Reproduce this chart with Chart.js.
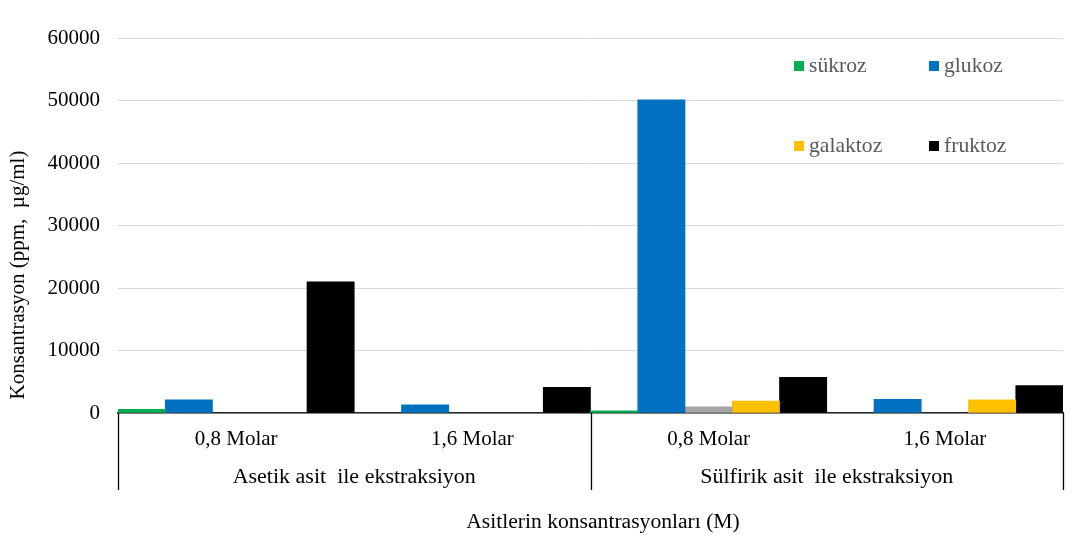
<!DOCTYPE html>
<html lang="tr">
<head>
  <meta charset="UTF-8">
  <title>Konsantrasyon</title>
  <style>
    body { margin: 0; background: #fff; }
    .chart-container { width: 1075px; height: 554px; }
  </style>
</head>
<body>
  <div class="chart-container">
    <canvas id="barChart" width="1075" height="554"></canvas>
  </div>

  <script src="https://cdn.jsdelivr.net/npm/chart.js"></script>
  <script>
    // data (null = no bar)
    const categories = ['0,8 Molar', '1,6 Molar', '0,8 Molar', '1,6 Molar'];
    const groups = ['Asetik asit  ile ekstraksiyon', 'Sülfirik asit  ile ekstraksiyon'];
    const yTicks = [0, 10000, 20000, 30000, 40000, 50000, 60000];

    const sukroz = [600, null, 350, null];
    const glukoz = [2100, 1300, 50100, 2200];
    const diger = [null, null, 1000, null];
    const galaktoz = [null, null, 1900, 2100];
    const fruktoz = [21000, 4100, 5700, 4400];

    const serif = "'Liberation Serif', 'Times New Roman', serif";

    // legend entries (gray series has none in the original)
    const legendItems = [
      { text: 'sükroz', color: '#00b050', x: 794, y: 61 },
      { text: 'glukoz', color: '#0070c0', x: 929, y: 61 },
      { text: 'galaktoz', color: '#ffc000', x: 794, y: 141 },
      { text: 'fruktoz', color: '#000000', x: 929, y: 141 }
    ];

    // text in the original is a little wider than Times, stretch it slightly
    function wideText(ctx, text, x, y, sx) {
      ctx.save();
      ctx.translate(x, y);
      ctx.scale(sx, 1);
      ctx.fillText(text, 0, 0);
      ctx.restore();
    }

    // multi level category labels, boxes, axis titles and legend
    const extras = {
      id: 'extras',
      afterDraw(chart) {
        const ctx = chart.ctx;
        const area = chart.chartArea;
        const x = chart.scales.x;
        const mid = (x.getPixelForValue(1) + x.getPixelForValue(2)) / 2;
        const lineBottom = 490;

        ctx.save();
        ctx.strokeStyle = '#000';
        ctx.lineWidth = 1.3;
        [area.left, mid, area.right].forEach(px => {
          ctx.beginPath();
          ctx.moveTo(Math.round(px) + 0.5, area.bottom);
          ctx.lineTo(Math.round(px) + 0.5, lineBottom);
          ctx.stroke();
        });

        ctx.fillStyle = '#000';
        ctx.font = '20px ' + serif;
        ctx.textAlign = 'center';
        ctx.textBaseline = 'middle';
        wideText(ctx, groups[0], (area.left + mid) / 2, 478, 1.1);
        wideText(ctx, groups[1], (mid + area.right) / 2, 478, 1.1);
        wideText(ctx, 'Asitlerin konsantrasyonları (M)', 603, 523, 1.08);

        // y title, placed like the original
        ctx.save();
        ctx.font = '21px ' + serif;
        ctx.translate(18, 275);
        ctx.rotate(-Math.PI / 2);
        ctx.fillText('Konsantrasyon (ppm,  µg/ml)', 0, 0);
        ctx.restore();

        ctx.font = '21px ' + serif;
        ctx.textAlign = 'left';
        ctx.textBaseline = 'alphabetic';
        legendItems.forEach(item => {
          ctx.fillStyle = item.color;
          ctx.fillRect(item.x, item.y, 10, 10);
          ctx.fillStyle = '#595959';
          wideText(ctx, item.text, item.x + 15, item.y + 11, 1.03);
        });
        ctx.restore();
      }
    };

    const ctx = document.getElementById('barChart').getContext('2d');
    new Chart(ctx, {
      type: 'bar',
      data: {
        labels: categories,
        datasets: [
          { label: 'sükroz', data: sukroz, backgroundColor: '#00b050' },
          { label: 'glukoz', data: glukoz, backgroundColor: '#0070c0' },
          { label: '', data: diger, backgroundColor: '#a5a5a5' },
          { label: 'galaktoz', data: galaktoz, backgroundColor: '#ffc000' },
          { label: 'fruktoz', data: fruktoz, backgroundColor: '#000000' }
        ]
      },
      options: {
        responsive: false,
        animation: false,
        datasets: { bar: { barPercentage: 1, categoryPercentage: 1 } },
        layout: { padding: { top: 38, right: 12, left: 0, bottom: 0 } },
        plugins: {
          legend: { display: false },
          tooltip: { enabled: false }
        },
        scales: {
          x: {
            grid: { display: false, drawTicks: false },
            border: { display: true, color: '#262626', width: 1.5 },
            ticks: { color: '#000', font: { family: serif, size: 21 }, padding: 14, maxRotation: 0 },
            afterFit(scale) { scale.height = 141; }
          },
          y: {
            min: 0,
            max: 60000,
            afterBuildTicks(scale) { scale.ticks = yTicks.map(v => ({ value: v })); },
            grid: { color: '#d9d9d9', lineWidth: 1, drawTicks: false },
            border: { display: false },
            ticks: {
              color: '#000',
              font: { family: serif, size: 21 },
              padding: 18,
              callback: v => String(v)
            },
            afterFit(scale) { scale.width = 118; }
          }
        }
      },
      plugins: [extras]
    });
  </script>
</body>
</html>
